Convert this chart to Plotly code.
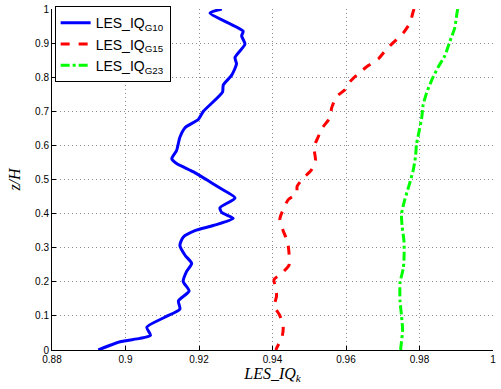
import plotly.graph_objects as go

# Blue: LES_IQ_G10
g10_x = [0.9262, 0.9230, 0.9320, 0.9316, 0.9325, 0.9298, 0.9302, 0.9289, 0.9266, 0.9264,
         0.9212, 0.9198, 0.9162, 0.9148, 0.9139, 0.9126, 0.9139, 0.9184, 0.9221, 0.9257,
         0.9298, 0.9257, 0.9262, 0.9293, 0.9239, 0.9189, 0.9157, 0.9148, 0.9162, 0.9180,
         0.9166, 0.9157, 0.9173, 0.9144, 0.9148, 0.9107, 0.9058, 0.9068, 0.9039, 0.8985, 0.8926]
g10_z = [1.000, 0.988, 0.935, 0.921, 0.897, 0.858, 0.839, 0.806, 0.777, 0.756,
         0.700, 0.676, 0.652, 0.624, 0.585, 0.561, 0.547, 0.523, 0.499, 0.475,
         0.446, 0.417, 0.403, 0.386, 0.365, 0.350, 0.331, 0.307, 0.278, 0.254,
         0.230, 0.201, 0.173, 0.144, 0.120, 0.096, 0.067, 0.043, 0.034, 0.024, 0.000]

# Red: LES_IQ_G15
g15_x = [0.9785, 0.9783, 0.9774, 0.9756, 0.9733, 0.9710, 0.9688, 0.9662, 0.9638, 0.9611,
         0.9597, 0.9574, 0.9561, 0.9556, 0.9536, 0.9524, 0.9513, 0.9517, 0.9506, 0.9484,
         0.9467, 0.9466, 0.9443, 0.9429, 0.9420, 0.9429, 0.9441, 0.9445, 0.9445, 0.9425,
         0.9404, 0.9409, 0.9411, 0.9405, 0.9420, 0.9429, 0.9426, 0.9411, 0.9409]
g15_z = [1.000, 0.993, 0.959, 0.930, 0.906, 0.882, 0.854, 0.835, 0.815, 0.787,
         0.763, 0.743, 0.710, 0.681, 0.652, 0.624, 0.595, 0.556, 0.528, 0.504,
         0.480, 0.460, 0.441, 0.412, 0.384, 0.350, 0.317, 0.283, 0.249, 0.225,
         0.206, 0.182, 0.158, 0.129, 0.101, 0.067, 0.038, 0.005, 0.000]

# Green: LES_IQ_G23
g23_x = [0.9904, 0.9902, 0.9896, 0.9883, 0.9869, 0.9851, 0.9833, 0.9819, 0.9810, 0.9806,
         0.9800, 0.9792, 0.9789, 0.9783, 0.9772, 0.9760, 0.9751, 0.9753, 0.9758, 0.9758,
         0.9756, 0.9747, 0.9747, 0.9751, 0.9754, 0.9749, 0.9749]
g23_z = [1.000, 0.988, 0.945, 0.906, 0.863, 0.830, 0.791, 0.753, 0.719, 0.681,
         0.647, 0.604, 0.566, 0.528, 0.484, 0.441, 0.398, 0.360, 0.317, 0.273,
         0.240, 0.197, 0.144, 0.101, 0.058, 0.005, 0.000]

x_ticks = [0.88, 0.9, 0.92, 0.94, 0.96, 0.98, 1.0]
x_tick_labels = ["0.88", "0.9", "0.92", "0.94", "0.96", "0.98", "1"]
y_ticks = [0, 0.1, 0.2, 0.3, 0.4, 0.5, 0.6, 0.7, 0.8, 0.9, 1.0]
y_tick_labels = ["0", "0.1", "0.2", "0.3", "0.4", "0.5", "0.6", "0.7", "0.8", "0.9", "1"]

fig = go.Figure()
fig.add_trace(go.Scatter(x=g10_x, y=g10_z, mode="lines", name="LES_IQ<sub>G10</sub>",
                         legendgroup="a",
                         line=dict(color="#0000ff", width=3, shape="spline", smoothing=0.6)))
fig.add_trace(go.Scatter(x=g15_x, y=g15_z, mode="lines", name="LES_IQ<sub>G15</sub>",
                         legendgroup="b",
                         line=dict(color="#ff0000", width=3, dash="dash", shape="spline", smoothing=0.6)))
fig.add_trace(go.Scatter(x=g23_x, y=g23_z, mode="lines", name="LES_IQ<sub>G23</sub>",
                         legendgroup="c",
                         line=dict(color="#00ff00", width=3, dash="dashdot", shape="spline", smoothing=0.6)))

fig.update_layout(
    width=501, height=389,
    margin=dict(l=52, r=8, t=3, b=39),
    paper_bgcolor="white", plot_bgcolor="white",
    font=dict(family="Liberation Sans, Arial, sans-serif", size=10, color="black"),
    legend=dict(x=0.006, y=1.008, xanchor="left", yanchor="top",
                bordercolor="black", borderwidth=1, bgcolor="white",
                font=dict(size=14), tracegroupgap=0, traceorder="grouped"),
    showlegend=True,
)
fig.update_xaxes(range=[0.88, 1.0], tickvals=x_ticks, ticktext=x_tick_labels,
                 ticks="inside", ticklen=4, tickcolor="black",
                 showline=True, linecolor="black", linewidth=1,
                 showgrid=True, gridcolor="#8a8a8a", griddash="1px,3px", gridwidth=1,
                 zeroline=False, ticklabeloverflow="allow",
                 title=dict(text="<i>LES_IQ<sub>k</sub></i>",
                            font=dict(family="Liberation Serif, DejaVu Serif, serif", size=16),
                            standoff=2))
fig.update_yaxes(range=[0, 1.0], tickvals=y_ticks, ticktext=y_tick_labels,
                 ticks="inside", ticklen=4, tickcolor="black",
                 showline=True, linecolor="black", linewidth=1,
                 showgrid=True, gridcolor="#8a8a8a", griddash="1px,3px", gridwidth=1,
                 zeroline=False, ticklabeloverflow="allow",
                 title=dict(text="<i>z/H</i>",
                            font=dict(family="Liberation Serif, DejaVu Serif, serif", size=16),
                            standoff=10))

fig.write_html("out.html")
